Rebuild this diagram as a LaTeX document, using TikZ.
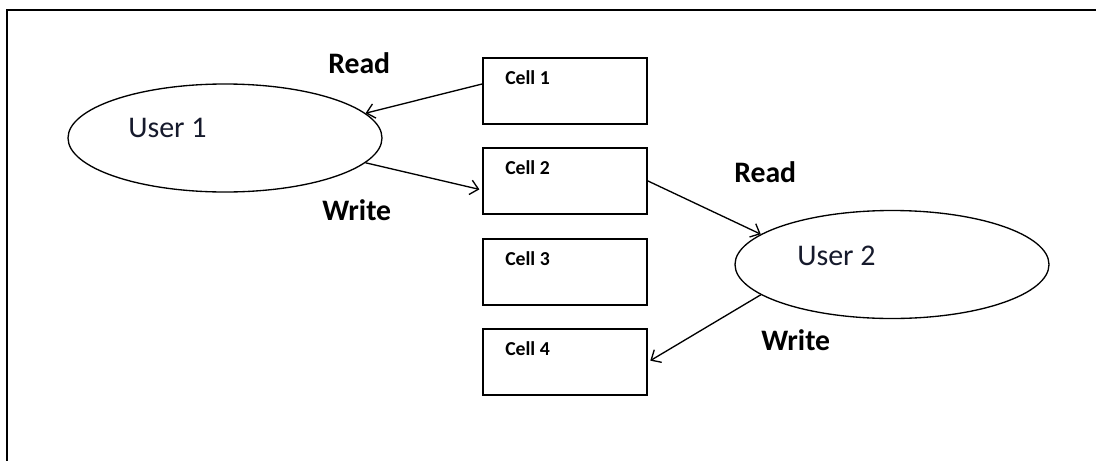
\documentclass[tikz,border=0pt]{standalone}
\usepackage{fontspec}
\setmainfont{Carlito}
\usetikzlibrary{arrows.meta,calc,shapes.geometric}
\definecolor{usertext}{RGB}{22,26,44}
\tikzset{
  frameline/.style={line width=1.5pt,black},
  userellipse/.style={draw,ellipse,line width=1pt,minimum width=235.5pt,minimum height=81pt,inner sep=0pt},
  cellbox/.style={draw,rectangle,line width=1.5pt,minimum width=123pt,minimum height=49.5pt,inner sep=0pt},
  celltext/.style={anchor=base west,inner sep=0pt,font=\fontsize{14.8}{16}\selectfont\bfseries},
  usertextstyle/.style={anchor=base west,inner sep=0pt,text=usertext,font=\fontsize{22.5}{26}\selectfont},
  oplabel/.style={anchor=base west,inner sep=0pt,font=\fontsize{22.3}{26}\selectfont\bfseries},
  flow/.style={line width=1pt,-{Straight Barb[length=6pt,width=11pt,line width=1pt]}}
}
\begin{document}
\begin{tikzpicture}[x=0.75pt,y=-0.75pt]
  \useasboundingbox (0,0) rectangle (1096,461);
  % outer frame (top and left edges)
  \draw[frameline] (1096,10) -- (7,10) -- (7,461);

  % users
  \node[userellipse] (u1) at (225,138) {};
  \node[usertextstyle] (u1t) at (128,137) {User 1};
  \node[userellipse] (u2) at (892,264.5) {};
  \node[usertextstyle] (u2t) at (797,265) {User 2};

  % memory cells
  \node[cellbox] (c1) at (565,91) {};
  \node[cellbox] (c2) at (565,181) {};
  \node[cellbox] (c3) at (565,272) {};
  \node[cellbox] (c4) at (565,362) {};
  \node[celltext] (c1t) at (505,84) {Cell 1};
  \node[celltext] (c2t) at (505,174) {Cell 2};
  \node[celltext] (c3t) at (505,265) {Cell 3};
  \node[celltext] (c4t) at (505,355) {Cell 4};

  % operation labels
  \node[oplabel] (r1) at (328,73) {Read};
  \node[oplabel] (w1) at (322,220) {Write};
  \node[oplabel] (r2) at (734,182) {Read};
  \node[oplabel] (w2) at (761,350) {Write};

  % accesses
  \draw[flow] ([yshift=5.25pt]c1.west) -- (u1.10.5);
  \draw[flow,shorten >=2pt] (u1.-10.3) -- ([yshift=-6.75pt]c2.west);
  \draw[flow] (c2.east) -- (u2.167.2);
  \draw[flow,shorten >=2pt] (u2.193.5) -- (c4.east);
\end{tikzpicture}
\end{document}
